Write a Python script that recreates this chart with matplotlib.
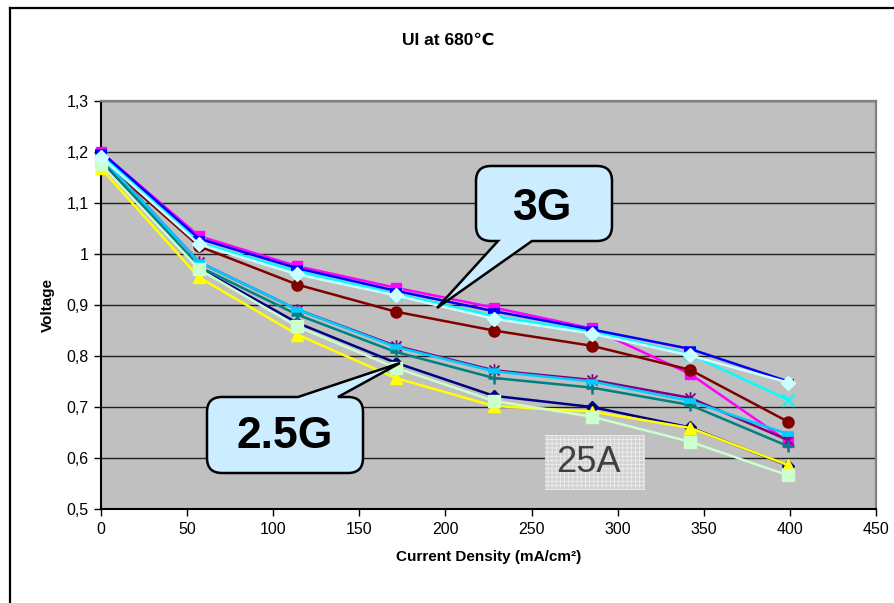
import matplotlib
matplotlib.use("Agg")
import matplotlib.pyplot as plt
from matplotlib.path import Path
from matplotlib.patches import PathPatch, Rectangle
from matplotlib.lines import Line2D
from matplotlib.ticker import FuncFormatter, MultipleLocator

plt.rcParams['font.family'] = ['Liberation Sans', 'DejaVu Sans']

# current density (mA/cm2)
current = [0, 57, 114, 171, 228, 285, 342, 399]

# voltages, one list per cell
v_navy = [1.180, 0.972, 0.865, 0.787, 0.722, 0.700, 0.660, 0.585]
v_magenta = [1.200, 1.035, 0.976, 0.934, 0.895, 0.854, 0.765, 0.632]
v_yellow = [1.168, 0.954, 0.842, 0.757, 0.702, 0.691, 0.659, 0.586]
v_cyan = [1.195, 1.022, 0.966, 0.922, 0.878, 0.848, 0.803, 0.714]
v_purple = [1.190, 0.984, 0.891, 0.820, 0.772, 0.753, 0.718, 0.635]
v_maroon = [1.185, 1.015, 0.940, 0.887, 0.850, 0.820, 0.773, 0.671]
v_teal = [1.185, 0.975, 0.881, 0.808, 0.757, 0.738, 0.704, 0.623]
v_blue = [1.200, 1.030, 0.972, 0.928, 0.888, 0.852, 0.814, 0.750]
v_sky = [1.190, 0.984, 0.891, 0.818, 0.770, 0.750, 0.712, 0.647]
v_lgreen = [1.176, 0.970, 0.858, 0.777, 0.712, 0.681, 0.632, 0.566]
v_lcyan = [1.190, 1.019, 0.960, 0.919, 0.873, 0.844, 0.801, 0.748]

W, H = 894, 603
fig = plt.figure(figsize=(W / 100, H / 100), dpi=100)
ax = fig.add_axes([101 / W, 1 - 509 / H, (876 - 101) / W, (509 - 101) / H])
ax.set_facecolor('#C0C0C0')

# excel style star: an x with a vertical bar
star = Path([(0, -1), (0, 1), (-0.8, -0.8), (0.8, 0.8), (-0.8, 0.8), (0.8, -0.8)],
            [Path.MOVETO, Path.LINETO] * 3)

# (values, colour, marker, marker size, marker edge width)
series = [
    (v_navy, '#000080', 'D', 6, 1),
    (v_magenta, '#FF00FF', 's', 7, 1),
    (v_yellow, '#FFFF00', '^', 8, 1),
    (v_cyan, '#00FFFF', 'x', 8, 1.8),
    (v_purple, '#800080', star, 9, 1.3),
    (v_maroon, '#800000', 'o', 8, 1),
    (v_teal, '#008080', '+', 9, 1.8),
    (v_blue, '#0000FF', '_', 9, 4),
    (v_sky, '#00CCFF', '_', 9, 4),
    (v_lgreen, '#CCFFCC', 's', 8, 1),
    (v_lcyan, '#CCFFFF', 'D', 7, 1),
]
for vals, col, mk, ms, mew in series:
    ax.plot(current, vals, color=col, lw=1.8, marker=mk, ms=ms,
            mfc=col, mec=col, mew=mew, zorder=3, clip_on=False)

ax.set_xlim(0, 450)
ax.set_ylim(0.5, 1.3)
ax.xaxis.set_major_locator(MultipleLocator(50))
ax.yaxis.set_major_locator(MultipleLocator(0.1))


def comma(v, pos):
    s = '%.1f' % v
    if s.endswith('.0'):
        s = s[:-2]
    return s.replace('.', ',')


ax.yaxis.set_major_formatter(FuncFormatter(comma))
ax.grid(axis='y', color='#202020', lw=1)
ax.set_axisbelow(True)
ax.tick_params(direction='out', length=5, width=1, labelsize=11.5, pad=4)
for side in ['left', 'bottom']:
    ax.spines[side].set_color('black')
    ax.spines[side].set_linewidth(1.5)
for side in ['top', 'right']:
    ax.spines[side].set_color('#808080')
    ax.spines[side].set_linewidth(1.6)

ax.set_xlabel('Current Density (mA/cm²)', fontsize=11, fontweight='bold', labelpad=10)
ax.set_ylabel('Voltage', fontsize=11, fontweight='bold', labelpad=8)
fig.text(448 / W, 1 - 40 / H, 'UI at 680℃', ha='center', va='center',
         fontsize=12.5, fontweight='bold')

# outer chart frame
fig.add_artist(Line2D([10 / W, 10 / W], [0, 1 - 8 / H], color='black', lw=1.6))
fig.add_artist(Line2D([10 / W, 1], [1 - 8 / H, 1 - 8 / H], color='black', lw=1.6))


def callout(x0, y0, x1, y1, bx0, bx1, tip, side, r=15):
    P = []
    C = []

    def mv(p, code):
        P.append(p)
        C.append(code)

    mv((x0 + r, y0), Path.MOVETO)
    if side == 'top':
        mv((bx0, y0), Path.LINETO)
        mv(tip, Path.LINETO)
        mv((bx1, y0), Path.LINETO)
    mv((x1 - r, y0), Path.LINETO)
    mv((x1, y0), Path.CURVE3)
    mv((x1, y0 + r), Path.CURVE3)
    mv((x1, y1 - r), Path.LINETO)
    mv((x1, y1), Path.CURVE3)
    mv((x1 - r, y1), Path.CURVE3)
    if side == 'bottom':
        mv((bx1, y1), Path.LINETO)
        mv(tip, Path.LINETO)
        mv((bx0, y1), Path.LINETO)
    mv((x0 + r, y1), Path.LINETO)
    mv((x0, y1), Path.CURVE3)
    mv((x0, y1 - r), Path.CURVE3)
    mv((x0, y0 + r), Path.LINETO)
    mv((x0, y0), Path.CURVE3)
    mv((x0 + r, y0), Path.CURVE3)
    mv((x0 + r, y0), Path.CLOSEPOLY)
    P = [(x / W, 1 - y / H) for x, y in P]
    fig.add_artist(PathPatch(Path(P, C), transform=fig.transFigure,
                             facecolor='#CCECFF', edgecolor='black', lw=1.8, zorder=5))


callout(476, 166, 612, 241, 498, 532, (437, 308), 'bottom')
fig.text(543 / W, 1 - 209 / H, '3G', ha='center', va='center',
         fontsize=32, fontweight='bold', zorder=6)
callout(207, 397, 363, 473, 298, 338, (400, 363), 'top')
fig.text(285 / W, 1 - 437 / H, '2.5G', ha='center', va='center',
         fontsize=32, fontweight='bold', zorder=6)

# 25A label with dotted background
plt.rcParams['hatch.linewidth'] = 0.6
fig.add_artist(Rectangle((545 / W, 1 - 490 / H), 100 / W, 55 / H, transform=fig.transFigure,
                         facecolor='#d2d2d2', edgecolor='#ececec', hatch='++++',
                         lw=0, zorder=2))
fig.text(588 / W, 1 - 462 / H, '25A', ha='center', va='center',
         fontsize=26, color='#404040', zorder=3)

fig.savefig('out.png', dpi=100)
